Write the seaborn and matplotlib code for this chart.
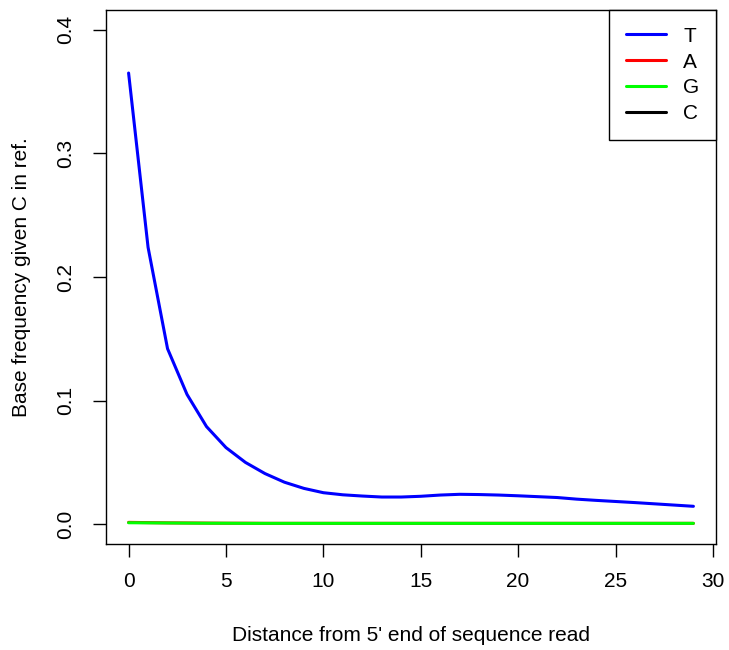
import numpy as np
import pandas as pd
import matplotlib
matplotlib.use("Agg")
import matplotlib.pyplot as plt
import seaborn as sns

# position along the read (0-based)
positions = list(range(30))

# base frequencies given C in reference
freq_T = [0.365, 0.224, 0.142, 0.105, 0.079, 0.062, 0.050, 0.041, 0.034, 0.029,
          0.0255, 0.0238, 0.0228, 0.0220, 0.0220, 0.0226, 0.0236, 0.0242, 0.0240, 0.0236,
          0.0230, 0.0223, 0.0216, 0.0203, 0.0193, 0.0184, 0.0175, 0.0165, 0.0155, 0.0145]
freq_A = [0.0015, 0.0013, 0.0011, 0.0010, 0.0009, 0.0008, 0.0008, 0.0007, 0.0007, 0.0007,
          0.0007, 0.0007, 0.0007, 0.0007, 0.0007, 0.0007, 0.0007, 0.0007, 0.0007, 0.0007,
          0.0007, 0.0007, 0.0007, 0.0007, 0.0007, 0.0007, 0.0007, 0.0007, 0.0007, 0.0007]
freq_G = [0.0012, 0.0011, 0.0010, 0.0009, 0.0008, 0.0008, 0.0007, 0.0007, 0.0007, 0.0007,
          0.0007, 0.0007, 0.0007, 0.0007, 0.0007, 0.0007, 0.0007, 0.0007, 0.0007, 0.0007,
          0.0007, 0.0007, 0.0007, 0.0007, 0.0007, 0.0007, 0.0007, 0.0007, 0.0007, 0.0007]
# C given C stays far above the plotted range
freq_C = [1 - t - a - g for t, a, g in zip(freq_T, freq_A, freq_G)]

bases = ["T", "A", "G", "C"]
base_colors = {"T": "#0000FF", "A": "#FF0000", "G": "#00FF00", "C": "#000000"}

df = pd.DataFrame({
    "pos": positions * 4,
    "freq": freq_T + freq_A + freq_G + freq_C,
    "base": [b for b in bases for _ in positions],
})

sns.set_style("white")
plt.rcParams["font.family"] = ["Liberation Sans", "DejaVu Sans"]
plt.rcParams["font.size"] = 15
plt.rcParams["text.color"] = "black"
plt.rcParams["axes.labelcolor"] = "black"

fig = plt.figure(figsize=(7.29, 6.5), dpi=100)
ax = fig.add_axes([106 / 729, 106 / 650, 610 / 729, 534 / 650])

sns.lineplot(data=df, x="pos", y="freq", hue="base", hue_order=bases,
             palette=base_colors, linewidth=2.2, ax=ax)

ax.set_xlim(-1.16, 30.16)
ax.set_ylim(-0.016, 0.416)
ax.set_xticks([0, 5, 10, 15, 20, 25, 30])
ax.set_yticks([0.0, 0.1, 0.2, 0.3, 0.4])
ax.set_yticklabels(["0.0", "0.1", "0.2", "0.3", "0.4"], rotation=90, va="center")

for s in ax.spines.values():
    s.set_color("black")
    s.set_linewidth(1.0)

ax.tick_params(axis="both", direction="out", length=9.5, width=1.0,
               colors="black", labelsize=15, bottom=True, left=True)
ax.tick_params(axis="x", pad=11)
ax.tick_params(axis="y", pad=12.5)

ax.set_xlabel("Distance from 5' end of sequence read", fontsize=15, labelpad=25)
ax.set_ylabel("Base frequency given C in ref.", fontsize=15, labelpad=18)

leg = ax.legend(loc="upper right", frameon=True, fancybox=False,
                borderaxespad=0, handlelength=1.9, handletextpad=0.85,
                labelspacing=0.33, borderpad=0.8, fontsize=15)
leg.get_frame().set_edgecolor("black")
leg.get_frame().set_linewidth(1.0)
leg.get_frame().set_alpha(1.0)
leg.set_title(None)

fig.savefig("out.png", dpi=100)
